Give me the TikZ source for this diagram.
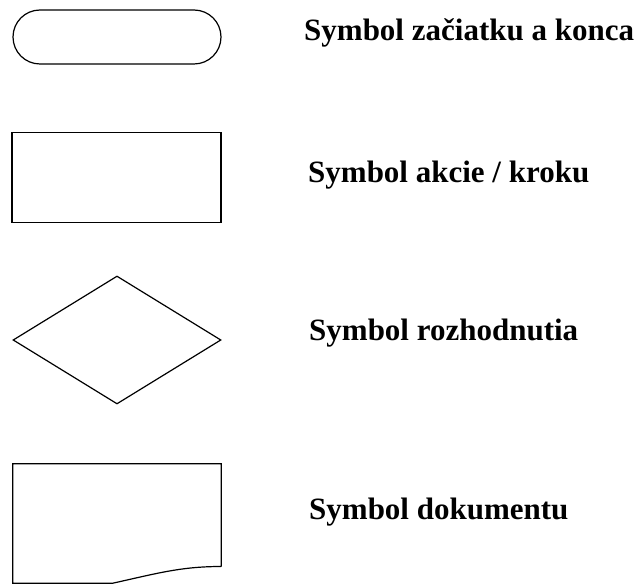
\documentclass[tikz,border=0pt]{standalone}
\usepackage{fontspec}
\setmainfont{Liberation Serif}
\usetikzlibrary{shapes.geometric, shapes.misc, positioning}

\begin{document}
\begin{tikzpicture}[
  x=1pt, y=-1pt,
  shp/.style={draw, line width=1.2pt, inner sep=0pt},
  term/.style={shp, rounded rectangle, minimum width=208pt, minimum height=54pt},
  stepbox/.style={shp, rectangle, minimum width=209pt, minimum height=90pt},
  decide/.style={shp, diamond, aspect=1.625, minimum width=208pt, minimum height=128pt},
  docbox/.style={rectangle, inner sep=0pt, minimum width=208pt, minimum height=119pt},
  lbl/.style={font=\fontsize{31}{36}\selectfont\bfseries, anchor=base west, inner sep=0pt}
]
\useasboundingbox (0,0) rectangle (635,585);

% -------------------------
% SYMBOLS
% -------------------------

\node[term] (start) at (117,37) {};
\node[stepbox] (act) at (116.5,177.5) {};
\node[decide] (dec) at (117,340) {};
\node[docbox] (doc) at (117,523.5) {};

% document outline with wavy bottom
\draw[line width=1.2pt]
  (doc.east) ++(0,43) coordinate (dr)
  (dr) -- (doc.north east) -- (doc.north west) -- (doc.south west)
  -- ++(100,0) .. controls +(45,-10) and +(-40,0) .. (dr);

% -------------------------
% LABELS
% -------------------------

\node[lbl] (lstart) at (304,41) {Symbol začiatku a konca};
\node[lbl] (lact) at (308,183) {Symbol akcie / kroku};
\node[lbl] (ldec) at (309,341) {Symbol rozhodnutia};
\node[lbl] (ldoc) at (309,519) {Symbol dokumentu};

\end{tikzpicture}
\end{document}
